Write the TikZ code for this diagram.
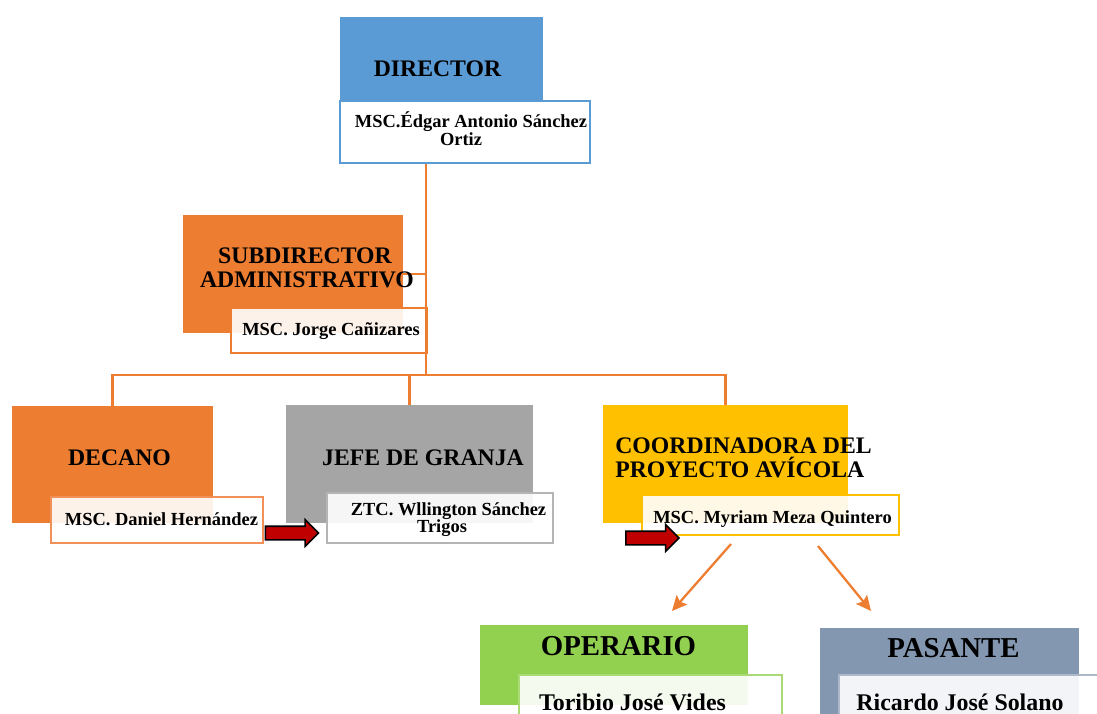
\documentclass[tikz,border=0pt]{standalone}
\usepackage{fontspec}
\setmainfont{Liberation Serif}
\usetikzlibrary{shapes.arrows,arrows.meta}
\definecolor{cblue}{HTML}{5B9BD5}
\definecolor{corange}{HTML}{ED7D31}
\definecolor{corangel}{HTML}{F19058}
\definecolor{cgray}{HTML}{A5A5A5}
\definecolor{cgrayl}{HTML}{B4B4B4}
\definecolor{cgold}{HTML}{FFC000}
\definecolor{cgreen}{HTML}{92D050}
\definecolor{cgreenl}{HTML}{A9DA74}
\definecolor{cslate}{HTML}{8497B0}
\definecolor{cslatel}{HTML}{ADB9CA}
\definecolor{cred}{HTML}{C00000}
\begin{document}
\begin{tikzpicture}[x=0.02cm,y=-0.02cm,
  rolebox/.style={rectangle, inner sep=0pt, draw=none},
  namebox/.style={rectangle, inner sep=0pt, fill=white, fill opacity=0.9, line width=1.3pt},
  ttl/.style={font=\fontsize{13.5}{16}\selectfont\bfseries, inner sep=0pt, anchor=base},
  nm/.style={font=\fontsize{10.5}{12}\selectfont\bfseries, inner sep=0pt, anchor=base},
  bttl/.style={font=\fontsize{16.4}{19}\selectfont\bfseries, inner sep=0pt, anchor=base},
  bnm/.style={font=\fontsize{13.6}{16}\selectfont\bfseries, inner sep=0pt, anchor=base},
  conn/.style={draw=corange, line width=1.4pt},
  flow/.style={draw=corange, line width=1.3pt, -{Stealth[length=8.5pt,width=8pt,inset=1.5pt]}},
  redarrow/.style={single arrow, draw=black, fill=cred, line width=0.9pt, inner xsep=0pt, inner ysep=0.12cm, single arrow head extend=0.13cm, minimum height=1.06cm, text height=0pt, text depth=0pt}
]
\clip (0,0) rectangle (1097,713);
% role boxes
\node[rolebox, fill=cblue, minimum width=4.06cm, minimum height=1.68cm] (dir) at (441.5,59) {};
\node[rolebox, fill=corange, minimum width=4.4cm, minimum height=2.36cm] (sub) at (293,274) {};
\node[rolebox, fill=corange, minimum width=4.02cm, minimum height=2.34cm] (dec) at (112.5,464.5) {};
\node[rolebox, fill=cgray, minimum width=4.94cm, minimum height=2.36cm] (jef) at (409.5,464) {};
\node[rolebox, fill=cgold, minimum width=4.90cm, minimum height=2.36cm] (coo) at (725.5,464) {};
\node[rolebox, fill=cgreen, minimum width=5.36cm, minimum height=1.6cm] (ope) at (614,665) {};
\node[rolebox, fill=cslate, minimum width=5.18cm, minimum height=2.24cm] (pas) at (949.5,684) {};
% name boxes
\node[namebox, draw=cblue, minimum width=5.0cm, minimum height=1.24cm] (dirn) at (465,132) {};
\node[namebox, draw=corange, minimum width=3.92cm, minimum height=0.9cm] (subn) at (329,330.5) {};
\node[namebox, draw=corangel, minimum width=4.24cm, minimum height=0.92cm] (decn) at (157,520) {};
\node[namebox, draw=cgrayl, minimum width=4.52cm, minimum height=1.0cm] (jefn) at (440,518) {};
\node[namebox, draw=cgold, minimum width=5.14cm, minimum height=0.8cm] (coon) at (770.5,515) {};
\node[namebox, draw=cgreenl, minimum width=5.26cm, minimum height=1.3cm] (open) at (650.5,707.5) {};
\node[namebox, draw=cslatel, minimum width=5.52cm, minimum height=1.3cm] (pasn) at (977,707.5) {};
% connectors
\coordinate (bus) at (426,375);
\draw[conn] (dirn.south -| bus) -- (bus);
\draw[conn] (sub.east) -- (sub.east -| bus);
\draw[conn] (dec.north) -- (dec.north |- bus) -- (coo.north |- bus) -- (coo.north);
\draw[conn] (jef.north) -- (jef.north |- bus);
\coordinate (f1s) at (731,544);
\coordinate (f1e) at (672,611);
\coordinate (f2s) at (818,546);
\coordinate (f2e) at (871,611);
\draw[flow] (f1s) -- (f1e);
\draw[flow] (f2s) -- (f2e);
% texts
\node[ttl] (tdir) at (437.5,76) {DIRECTOR};
\node[nm] (ndir1) at (471,127) {MSC.Édgar Antonio Sánchez};
\node[nm] (ndir2) at (461,145) {Ortiz};
\node[ttl] (tsub1) at (305,263) {SUBDIRECTOR};
\node[ttl] (tsub2) at (307,287) {ADMINISTRATIVO};
\node[nm] (nsub) at (331,335) {MSC. Jorge Cañizares};
\node[ttl] (tdec) at (119.5,465) {DECANO};
\node[nm] (ndec) at (161.5,525) {MSC. Daniel Hernández};
\node[ttl] (tjef) at (423,465) {JEFE DE GRANJA};
\node[nm] (njef1) at (448.5,515) {ZTC. Wllington Sánchez};
\node[nm] (njef2) at (442,532) {Trigos};
\node[ttl, anchor=base west] (tcoo1) at (615,453) {COORDINADORA DEL};
\node[ttl, anchor=base west] (tcoo2) at (615,477) {PROYECTO AVÍCOLA};
\node[nm] (ncoo) at (772.5,523) {MSC. Myriam Meza Quintero};
\node[bttl] (tope) at (618.5,655) {OPERARIO};
\node[bnm] (nope) at (632.5,710) {Toribio José Vides};
\node[bttl] (tpas) at (953.5,657) {PASANTE};
\node[bnm] (npas) at (960,710) {Ricardo José Solano};
% red arrows
\node[redarrow] (ra1) at (288.5,533) {};
\node[redarrow] (ra2) at (649,538) {};
\end{tikzpicture}
\end{document}
